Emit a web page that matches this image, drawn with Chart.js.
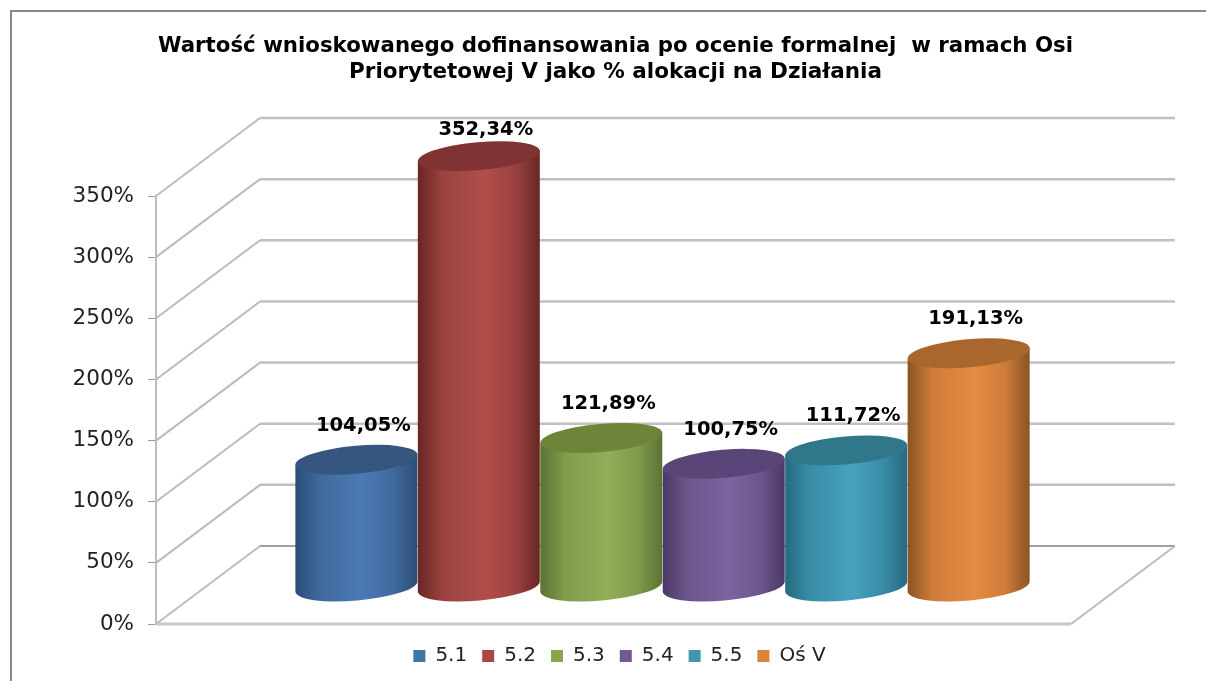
<!DOCTYPE html>
<html lang="pl">
<head>
<meta charset="utf-8">
<title>Wartość wnioskowanego dofinansowania</title>
<script src="https://cdn.jsdelivr.net/npm/chart.js@4/dist/chart.umd.min.js"></script>
<style>
  html, body { margin: 0; padding: 0; background: #fff; overflow: hidden; }
  #wrap { position: relative; width: 1206px; height: 681px; }
  #frame { position: absolute; left: 10px; top: 10px; right: 0; bottom: 0; border-left: 2px solid #888; border-top: 2px solid #888; }
  #chart { position: absolute; left: 0; top: 0; }
</style>
</head>
<body>
<div id="wrap">
  <div id="frame"></div>
  <canvas id="chart" width="1206" height="681"></canvas>
</div>
<script>
// Dane
const titleLines = [
  'Wartość wnioskowanego dofinansowania po ocenie formalnej  w ramach Osi',
  'Priorytetowej V jako % alokacji na Działania'
];
const seriesNames = ['5.1', '5.2', '5.3', '5.4', '5.5', 'Oś V'];
const seriesValues = [104.05, 352.34, 121.89, 100.75, 111.72, 191.13];
const tickStep = 50;
const tickMax = 350;

// Kolory: legenda, środek walca, półcień, krawędź walca, wieko
const legendColors = ['#4572A7', '#AA4643', '#89A54E', '#71588F', '#4198AF', '#DB843D'];
const bodyColors = ['#4A7AB3', '#B14E4B', '#90AF58', '#7D63A0', '#45A2BE', '#E58B43'];
const midColors = ['#3F6A9E', '#9A4240', '#7F9C4C', '#6C558C', '#3A8CA6', '#CF7C3A'];
const edgeColors = ['#2C4D77', '#682725', '#5C7234', '#4A3865', '#256B80', '#8A5423'];
const capColors = ['#35577F', '#803332', '#6D8439', '#5A4578', '#31778C', '#A9662D'];

const FONT = '"DejaVu Sans", Verdana, sans-serif';

// Głębokość pseudo-3D (ściana tylna i pozycja walców)
const WALL_DX = 104;
const WALL_DY = -78;
const BAR_DX = 49;
const BAR_DY = -37;
const TILT = 5 * Math.PI / 180;
const CAP_RY = 14;

function drawWalls(chart) {
  const { ctx, chartArea, scales } = chart;
  const y = scales.y;
  const left = chartArea.left;
  const right = chartArea.right;
  ctx.save();
  ctx.lineJoin = 'round';
  y.ticks.forEach(t => {
    const py = y.getPixelForValue(t.value);
    ctx.lineWidth = 2;
    ctx.strokeStyle = '#BBBBBB';
    ctx.beginPath();
    ctx.moveTo(left, py);
    ctx.lineTo(left + WALL_DX, py + WALL_DY);
    ctx.stroke();
    ctx.lineWidth = t.value === 0 ? 2 : 2.5;
    ctx.strokeStyle = t.value === 0 ? '#A0A0A0' : '#C0C0C0';
    ctx.beginPath();
    ctx.moveTo(left + WALL_DX, py + WALL_DY);
    ctx.lineTo(right + WALL_DX, py + WALL_DY);
    ctx.stroke();
  });
  // podłoga
  const y0 = y.getPixelForValue(0);
  ctx.lineWidth = 3;
  ctx.strokeStyle = '#C8C8C8';
  ctx.beginPath();
  ctx.moveTo(left, y0);
  ctx.lineTo(right, y0);
  ctx.stroke();
  ctx.lineWidth = 2;
  ctx.strokeStyle = '#BBBBBB';
  ctx.beginPath();
  ctx.moveTo(right, y0);
  ctx.lineTo(right + WALL_DX, y0 + WALL_DY);
  ctx.stroke();
  ctx.restore();
}

function drawCylinder(ctx, bar, i) {
  const cx = bar.x + BAR_DX;
  const topY = bar.y + BAR_DY;
  const baseY = bar.base + BAR_DY;
  const rx = bar.width / 2;
  const sx = rx * Math.cos(TILT);
  const sy = rx * Math.sin(TILT);

  const grad = ctx.createLinearGradient(cx - sx, 0, cx + sx, 0);
  grad.addColorStop(0, edgeColors[i]);
  grad.addColorStop(0.2, midColors[i]);
  grad.addColorStop(0.55, bodyColors[i]);
  grad.addColorStop(0.8, midColors[i]);
  grad.addColorStop(1, edgeColors[i]);

  ctx.beginPath();
  ctx.moveTo(cx - sx, topY + sy);
  ctx.lineTo(cx - sx, baseY + sy);
  ctx.ellipse(cx, baseY, rx, CAP_RY, -TILT, Math.PI, 0, true);
  ctx.lineTo(cx + sx, topY - sy);
  ctx.closePath();
  ctx.fillStyle = grad;
  ctx.fill();

  ctx.beginPath();
  ctx.ellipse(cx, topY, rx, CAP_RY, -TILT, 0, Math.PI * 2);
  ctx.fillStyle = capColors[i];
  ctx.fill();
}

function formatPercent(v) {
  return v.toFixed(2).replace('.', ',') + '%';
}

const cylinderPlugin = {
  id: 'cylinders',
  afterLayout(chart) {
    // legenda i tytuł są lekko przesunięte w prawo względem osi
    chart.legend.left += 6;
    chart.legend.right += 6;
    chart.titleBlock.left += 2;
    chart.titleBlock.right += 2;
  },
  beforeDatasetsDraw(chart) {
    const ctx = chart.ctx;
    drawWalls(chart);
    ctx.save();
    seriesValues.forEach((v, i) => {
      drawCylinder(ctx, chart.getDatasetMeta(i).data[0], i);
    });
    // Etykiety wartości
    ctx.fillStyle = '#000';
    ctx.font = 'bold 19.5px ' + FONT;
    ctx.textAlign = 'center';
    ctx.textBaseline = 'middle';
    seriesValues.forEach((v, i) => {
      const bar = chart.getDatasetMeta(i).data[0];
      const ly = Math.max(bar.y + BAR_DY - 34, 130);
      ctx.fillText(formatPercent(v), bar.x + BAR_DX + 7, ly);
    });
    ctx.restore();
  },
  beforeDatasetDraw() {
    return false; // walce rysowane powyżej
  }
};

new Chart(document.getElementById('chart'), {
  type: 'bar',
  data: {
    labels: [''],
    datasets: seriesNames.map((name, i) => ({
      label: name,
      data: [seriesValues[i]],
      backgroundColor: legendColors[i],
      borderWidth: 0
    }))
  },
  plugins: [cylinderPlugin],
  options: {
    responsive: false,
    animation: false,
    layout: { padding: { left: 0, right: 135, top: 0, bottom: 5 } },
    datasets: { bar: { categoryPercentage: 0.803, barPercentage: 1 } },
    plugins: {
      tooltip: { enabled: false },
      title: {
        display: true,
        fullSize: false,
        text: titleLines,
        color: '#000',
        font: { family: FONT, size: 21.5, weight: 'bold', lineHeight: 1.21 },
        padding: { top: 33, bottom: 111 }
      },
      legend: {
        position: 'bottom',
        fullSize: false,
        onClick: null,
        labels: {
          color: '#222',
          font: { family: FONT, size: 20 },
          boxWidth: 12,
          boxHeight: 12,
          padding: 15
        }
      }
    },
    scales: {
      x: {
        display: true,
        offset: true,
        afterFit(scale) { scale.height = 7; },
        ticks: { display: false },
        grid: { display: false },
        border: { display: false }
      },
      y: {
        min: 0,
        max: tickMax,
        afterFit(scale) { scale.width = 156; },
        ticks: {
          stepSize: tickStep,
          color: '#222',
          padding: 14,
          font: { family: FONT, size: 21.5 },
          callback: v => v + '%'
        },
        border: { display: true, color: '#BDBDBD', width: 2 },
        grid: { drawOnChartArea: false, drawTicks: true, tickLength: 8, color: '#999' }
      }
    }
  }
});
</script>
</body>
</html>
